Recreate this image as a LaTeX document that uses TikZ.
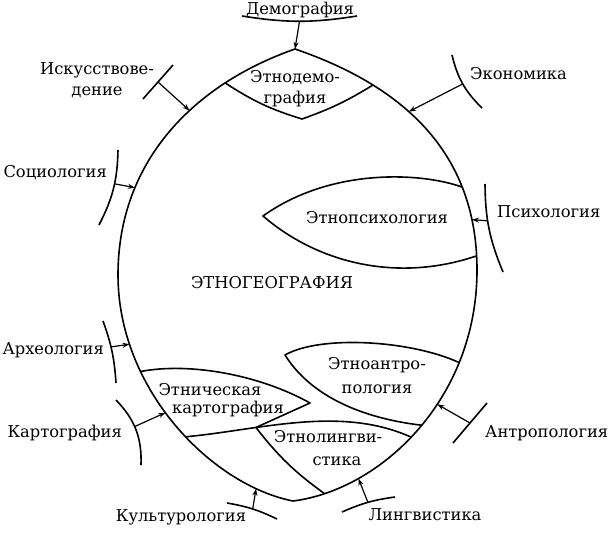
\documentclass[tikz,border=0pt]{standalone}
\usepackage{fontspec}
\setmainfont{DejaVu Serif}
\usetikzlibrary{arrows.meta,positioning}

\begin{document}
\begin{tikzpicture}[x=1pt, y=-1pt, line join=round,
    contour/.style={line width=1.6pt},
    bracket/.style={line width=1.6pt},
    link/.style={line width=1.2pt, -{Stealth[length=7pt,width=5pt]}},
    science/.style={inner sep=0pt, font=\fontsize{16.3}{21}\selectfont},
    field/.style={inner sep=0pt, align=center, font=\fontsize{16.3}{21}\selectfont}
]
\useasboundingbox (0,0) rectangle (609,535);

% Contour of ethnogeography
\coordinate (top) at (295,49);
\coordinate (bottom) at (293,501);
\draw[contour] (top)
  .. controls (195,84) and (118,160) .. (118,275)
     coordinate[pos=0.25] (oDemoL) coordinate[pos=0.4] (oIsk) coordinate[pos=0.72] (oSoc)
  .. controls (118,390) and (212,485) .. (bottom)
     coordinate[pos=0.21] (oArch) coordinate[pos=0.3] (oCartTop) coordinate[pos=0.45] (oKart)
     coordinate[pos=0.55] (oLingL) coordinate[pos=0.85] (oKult)
  .. controls (380,490) and (477,400) .. (477,270)
     coordinate[pos=0.12] (oLingBot) coordinate[pos=0.25] (oLing) coordinate[pos=0.47] (oLingR)
     coordinate[pos=0.52] (oAntrB) coordinate[pos=0.6] (oAntr) coordinate[pos=0.74] (oAntrA)
  .. controls (477,150) and (400,85) .. (top)
     coordinate[pos=0.04] (oPsyB) coordinate[pos=0.15] (oPsy) coordinate[pos=0.26] (oPsyA)
     coordinate[pos=0.58] (oEcon) coordinate[pos=0.73] (oDemoR)
  -- cycle;

% Ethnodemography
\coordinate (demoTip) at (302,119);
\draw[contour] (oDemoL) to[bend right=8] (demoTip) to[bend right=6] (oDemoR);

% Ethnopsychology
\coordinate (psyTip) at (263,216);
\draw[contour] (oPsyA) .. controls (420,172) and (330,168) .. (psyTip)
   .. controls (320,265) and (400,282) .. (oPsyB);

% Ethnoanthropology
\coordinate (antrTip) at (285,355);
\draw[contour] (oAntrA) .. controls (410,340) and (320,335) .. (antrTip)
   .. controls (310,395) and (360,418) .. (oAntrB);

% Ethnolinguistics and ethnic cartography
\coordinate (kartTip) at (310,403);
\draw[contour] (oLingL) .. controls (260,430) and (340,405) .. (oLingR)
   coordinate[pos=0.31] (joint);
\draw[contour] (oCartTop) .. controls (190,362) and (260,375) .. (kartTip) -- (joint);
\draw[contour] (joint) to[bend right=8] (oLingBot);

% Demography
\node[science] (demo) at (300,10) {Демография};
\draw[bracket] (242,16) to[bend right=9] coordinate[pos=0.5] (bDemo) (357,16);
\draw[link] (bDemo) -- (top);

% Art studies
\node[field] (isk) at (97,80) {Искусствове-\\дение};
\draw[bracket] (143,99) -- coordinate[pos=0.5] (bIsk) (173,65);
\draw[link] (bIsk) -- (oIsk);

% Economics
\node[science, anchor=west] (econ) at (470,74) {Экономика};
\draw[bracket] (452,55) to[bend right=16] coordinate[pos=0.5] (bEcon) (482,108);
\draw[link] (bEcon) -- (oEcon);

% Sociology
\node[science, anchor=east] (soc) at (107,173) {Социология};
\draw[bracket] (118,150) to[bend left=13] coordinate[pos=0.43] (bSoc) (99,225);
\draw[link] (bSoc) -- (oSoc);

% Psychology
\node[science, anchor=west] (psy) at (497,212) {Психология};
\draw[bracket] (485,184) to[bend right=11] coordinate[pos=0.4] (bPsy) (503,272);
\draw[link] (bPsy) -- (oPsy);

% Archaeology
\node[science, anchor=east] (arch) at (104,350) {Археология};
\draw[bracket] (103,321) to[bend left=8] coordinate[pos=0.42] (bArch) (116,383);
\draw[link] (bArch) -- (oArch);

% Cartography
\node[science, anchor=east] (kart) at (122,433) {Картография};
\draw[bracket] (116,400) to[bend left=23] coordinate[pos=0.45] (bKart) (141,465);
\draw[link] (bKart) -- (oKart);

% Culturology
\node[science] (kult) at (181,517) {Культурология};
\draw[bracket] (227,503) to[bend left=8] coordinate[pos=0.5] (bKult) (277,519);
\draw[link] (bKult) -- (oKult);

% Linguistics
\node[science] (ling) at (425,515) {Лингвистика};
\draw[bracket] (342,512) to[bend left=8] coordinate[pos=0.5] (bLing) (395,497);
\draw[link] (bLing) -- (oLing);

% Anthropology
\node[science, anchor=west] (antr) at (485,433) {Антропология};
\draw[bracket] (487,403) -- coordinate[pos=0.5] (bAntr) (453,443);
\draw[link] (bAntr) -- (oAntr);

% Fields inside
\node[science] (geo) at (272,283) {ЭТНОГЕОГРАФИЯ};
\node[field] (edemo) at (295,89) {Этнодемо-\\графия};
\node[science] (epsy) at (377,218) {Этнопсихология};
\node[field, font=\fontsize{16.3}{24}\selectfont] (eantr) at (377,376) {Этноантро-\\пология};
\node[science] (ekart) at (210,390) {Этническая};
\node[science] (ekart2) at (228,409) {картография};
\node[science] (eling) at (328,437) {Этнолингви-};
\node[science] (eling2) at (337,461) {стика};

\end{tikzpicture}
\end{document}
